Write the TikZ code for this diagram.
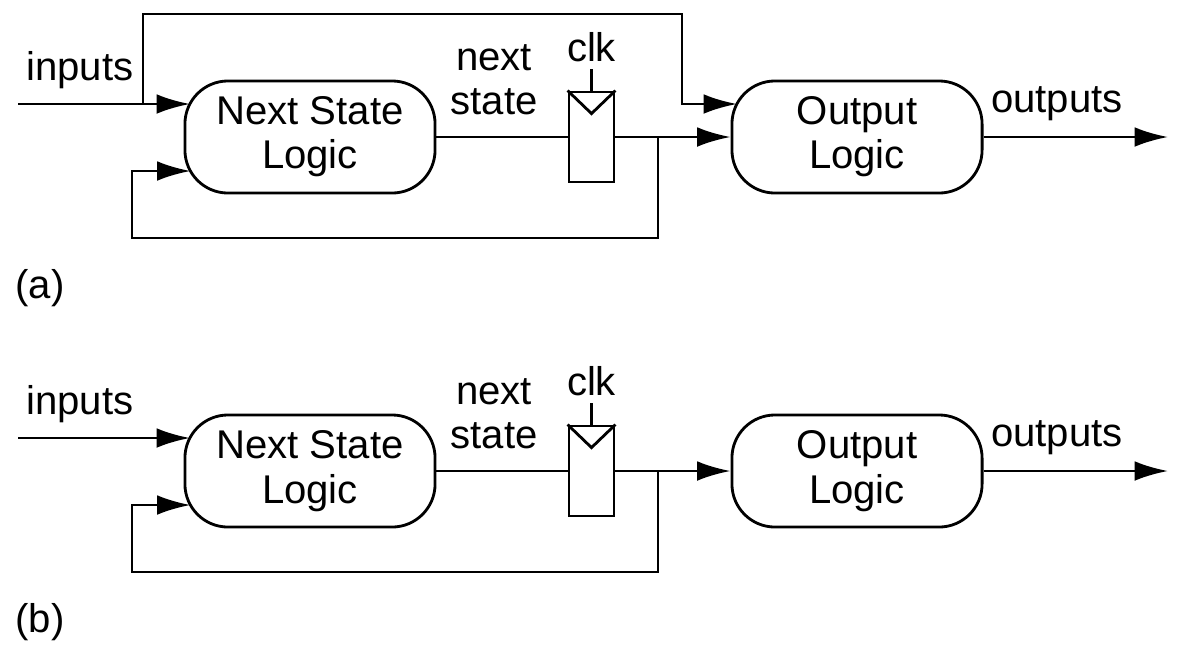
\documentclass[tikz,border=0pt]{standalone}
\usepackage{fontspec}
\setmainfont{Liberation Sans}
\usetikzlibrary{arrows.meta}
\tikzset{
	logic/.style={draw, line width=0.8pt, rounded corners=0.43cm, minimum width=2.5cm,
		minimum height=1.12cm, inner sep=0pt, align=center, font=\fontsize{11.4}{12.6}\selectfont},
	flop/.style={draw, line width=0.8pt, minimum width=0.45cm, minimum height=0.9cm, inner sep=0pt},
	wire/.style={line width=0.8pt},
	sig/.style={wire, -{Latex[length=9.5pt,width=5.6pt]}},
	lbl/.style={font=\fontsize{11.4}{12.6}\selectfont, align=center, inner sep=0pt},
}
\begin{document}
\begin{tikzpicture}[x=0.01cm,y=-0.01cm]
	\useasboundingbox (0,0) rectangle (1180,651);
	% (a)
	\path
	coordinate (ina) at (18,104)
	coordinate (upa) at (143,104)
	coordinate (topa) at (682,14)
	coordinate (nslaIn) at (190,104)
	coordinate (nslaFb) at (190.5,171)
	coordinate (olaIn) at (737,104)
	coordinate (tapa) at (658,137)
	coordinate (fba) at (132,238)
	coordinate (clka) at (591.5,69)
	coordinate (outa) at (1168,137)
	;
	\node[logic] (nsla) at (310,137) {Next State\\Logic};
	\node[logic] (ola) at (857,137) {Output\\Logic};
	\node[flop] (rega) at (591.5,137) {};
	\draw[wire] (rega.north west) -- ([yshift=-0.23cm]rega.north) -- (rega.north east);
	\draw[wire] (clka) -- (rega.north);
	\draw[sig] (ina) -- (nslaIn);
	\draw[sig] (upa) |- (topa) |- (olaIn);
	\draw[wire] (nsla.east) -- (rega.west);
	\draw[sig] (rega.east) -- (ola.west);
	\draw[sig] (tapa) |- (fba) |- (nslaFb);
	\draw[sig] (ola.east) -- (outa);
	\node[lbl] (inlbla) at (80,70) {inputs};
	\node[lbl] (nslbla) at (494,80) {next\\state};
	\node[lbl] (clklbla) at (591.5,47) {clk};
	\node[lbl] (outlbla) at (1057,104) {outputs};
	\node[lbl] (capa) at (40,288) {(a)};
	% (b)
	\path
	coordinate (inb) at (18,438)
	coordinate (nslbIn) at (190,438)
	coordinate (nslbFb) at (190.5,505)
	coordinate (tapb) at (658,471)
	coordinate (fbb) at (132,572)
	coordinate (clkb) at (591.5,403)
	coordinate (outb) at (1168,471)
	;
	\node[logic] (nslb) at (310,471) {Next State\\Logic};
	\node[logic] (olb) at (857,471) {Output\\Logic};
	\node[flop] (regb) at (591.5,471) {};
	\draw[wire] (regb.north west) -- ([yshift=-0.23cm]regb.north) -- (regb.north east);
	\draw[wire] (clkb) -- (regb.north);
	\draw[sig] (inb) -- (nslbIn);
	\draw[wire] (nslb.east) -- (regb.west);
	\draw[sig] (regb.east) -- (olb.west);
	\draw[sig] (tapb) |- (fbb) |- (nslbFb);
	\draw[sig] (olb.east) -- (outb);
	\node[lbl] (inlblb) at (80,404) {inputs};
	\node[lbl] (nslblb) at (494,414) {next\\state};
	\node[lbl] (clklblb) at (591.5,381) {clk};
	\node[lbl] (outlblb) at (1057,438) {outputs};
	\node[lbl] (capb) at (40,622) {(b)};
\end{tikzpicture}
\end{document}
